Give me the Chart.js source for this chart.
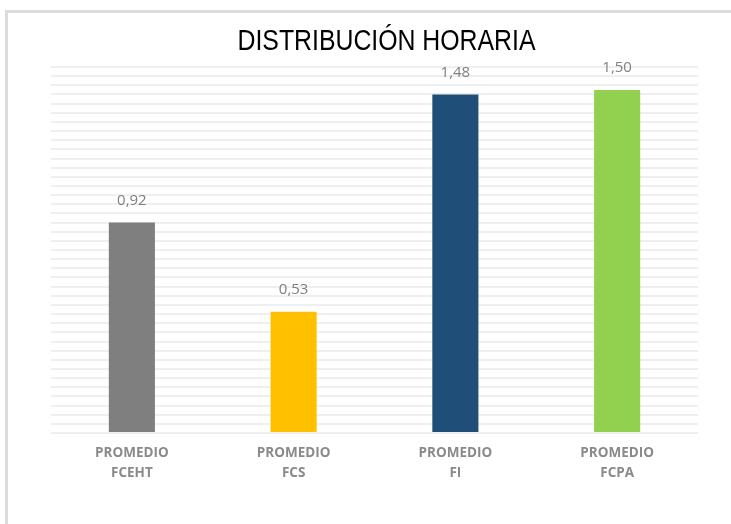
<!DOCTYPE html>
<html>
<head>
<meta charset="utf-8">
<script src="https://cdn.jsdelivr.net/npm/chart.js@4/dist/chart.umd.min.js"></script>
<style>
  html, body { margin: 0; padding: 0; background: #ffffff; }
  #wrap { position: relative; width: 731px; height: 524px; overflow: hidden; }
  #frame { position: absolute; left: 5px; top: 10px; width: 760px; height: 560px;
           border-left: 3px solid #dcdcdc; border-top: 3px solid #dcdcdc; box-sizing: border-box; }
  canvas { position: absolute; left: 0; top: 0; }
</style>
</head>
<body>
<div id="wrap">
  <div id="frame"></div>
  <canvas id="c" width="731" height="524"></canvas>
</div>
<script>
const titleText = 'DISTRIBUCIÓN HORARIA';
const categories = [['PROMEDIO', 'FCEHT'], ['PROMEDIO', 'FCS'], ['PROMEDIO', 'FI'], ['PROMEDIO', 'FCPA']];
const values = [0.92, 0.53, 1.48, 1.50];
const valueLabels = ['0,92', '0,53', '1,48', '1,50'];
const barColors = ['#7f7f7f', '#ffc000', '#1f4e79', '#92d050'];
const yMin = 0;
const yMax = 1.6;
const yStep = 0.04;

const titlePlugin = {
  id: 'customTitle',
  afterDraw(chart) {
    const ctx = chart.ctx;
    const a = chart.chartArea;
    ctx.save();
    ctx.font = '30px "Liberation Sans", Arial, sans-serif';
    ctx.fillStyle = '#000000';
    ctx.textAlign = 'center';
    ctx.textBaseline = 'alphabetic';
    const w = ctx.measureText(titleText).width;
    const sx = 298 / w;
    const cx = (a.left + a.right) / 2 + 12;
    ctx.translate(cx, 50);
    ctx.scale(sx, 1);
    ctx.fillText(titleText, 0, 0);
    ctx.restore();
  }
};

const valuePlugin = {
  id: 'valueLabels',
  afterDatasetsDraw(chart) {
    const ctx = chart.ctx;
    const meta = chart.getDatasetMeta(0);
    ctx.save();
    ctx.font = '15px "Open Sans", sans-serif';
    ctx.fillStyle = '#7f7f7f';
    ctx.textAlign = 'center';
    ctx.textBaseline = 'middle';
    meta.data.forEach((bar, i) => {
      ctx.fillText(valueLabels[i], bar.x, bar.y - 22);
    });
    ctx.restore();
  }
};

new Chart(document.getElementById('c'), {
  type: 'bar',
  data: {
    labels: categories,
    datasets: [{
      data: values,
      backgroundColor: barColors,
      borderWidth: 0,
      barPercentage: 0.285,
      categoryPercentage: 1.0
    }]
  },
  options: {
    responsive: false,
    animation: false,
    devicePixelRatio: 1,
    layout: { padding: { left: 51, right: 33, top: 67, bottom: 0 } },
    plugins: {
      legend: { display: false },
      title: { display: false },
      tooltip: { enabled: false }
    },
    scales: {
      x: {
        grid: { display: false, drawTicks: false },
        border: { display: false },
        ticks: {
          color: '#8a8a8a',
          font: { family: '"Open Sans", sans-serif', size: 13.5, weight: 'bold', lineHeight: 1.5 },
          padding: 10,
          maxRotation: 0,
          autoSkip: false
        },
        afterFit(scale) { scale.height = 91; }
      },
      y: {
        min: yMin,
        max: yMax,
        ticks: { display: false, stepSize: yStep, maxTicksLimit: 100 },
        grid: { color: '#efefef', lineWidth: 2, drawTicks: false },
        border: { display: false },
        afterFit(scale) { scale.width = 0; }
      }
    }
  },
  plugins: [titlePlugin, valuePlugin]
});
</script>
</body>
</html>
